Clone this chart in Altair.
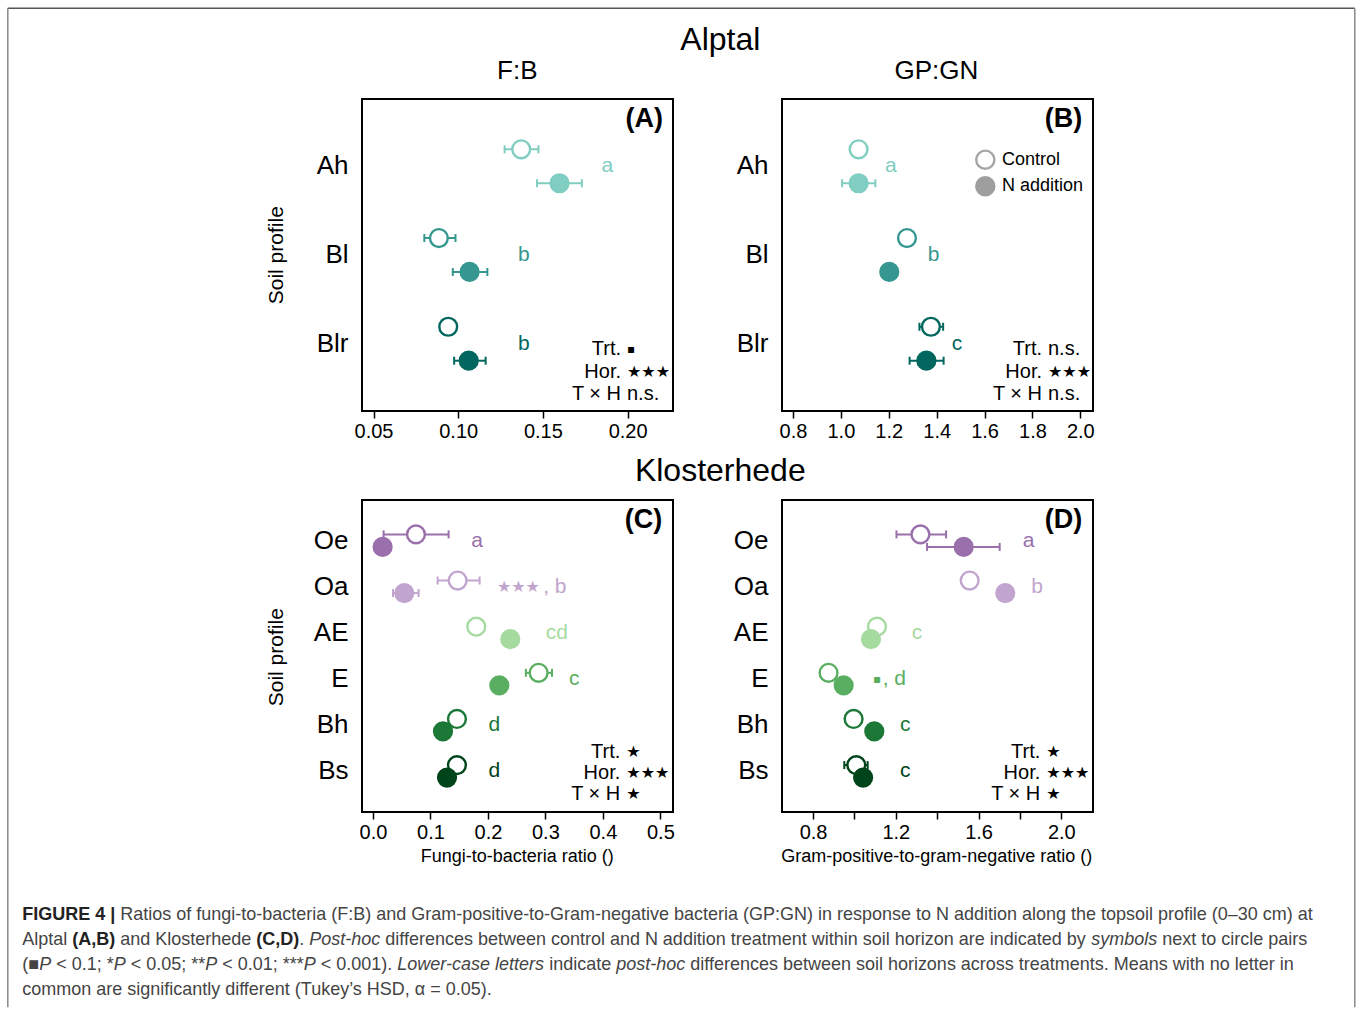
import altair as alt
import pandas as pd

FONT = "Liberation Sans, Arial, Helvetica, DejaVu Sans, sans-serif"
SYMFONT = "DejaVu Sans, Liberation Sans, sans-serif"
TREAT = ["Control", "N addition"]

# ---------------- data ----------------
alptal_horizons = ["Ah", "Bl", "Blr"]
alptal_colors = ["#80cdc1", "#35978f", "#01665e"]

fb_a_ctrl = [0.1372, 0.0886, 0.0941]
fb_a_ctrl_lo = [0.1274, 0.0800, 0.0941]
fb_a_ctrl_hi = [0.1474, 0.0984, 0.0941]
fb_a_n = [0.1598, 0.1067, 0.1062]
fb_a_n_lo = [0.1465, 0.0968, 0.0976]
fb_a_n_hi = [0.1730, 0.1172, 0.1162]
fb_a_letters = ["a", "b", "b"]
fb_a_letter_at = [0.188, 0.1388, 0.1388]
fb_a_marks = ["", "", ""]
fb_a_mark_at = [0, 0, 0]
fb_a_stats = ["▪", "★★★", "n.s."]

gp_a_ctrl = [1.074, 1.276, 1.376]
gp_a_ctrl_lo = [1.074, 1.276, 1.328]
gp_a_ctrl_hi = [1.074, 1.276, 1.427]
gp_a_n = [1.074, 1.202, 1.357]
gp_a_n_lo = [1.005, 1.202, 1.287]
gp_a_n_hi = [1.144, 1.202, 1.429]
gp_a_letters = ["a", "b", "c"]
gp_a_letter_at = [1.209, 1.387, 1.485]
gp_a_marks = ["", "", ""]
gp_a_mark_at = [0, 0, 0]
gp_a_stats = ["n.s.", "★★★", "n.s."]

klost_horizons = ["Oe", "Oa", "AE", "E", "Bh", "Bs"]
klost_colors = ["#9970ab", "#c2a5cf", "#a6dba0", "#5aae61", "#1b7837", "#00441b"]

fb_k_ctrl = [0.0748, 0.1473, 0.1797, 0.2882, 0.1461, 0.1461]
fb_k_ctrl_lo = [0.0185, 0.1125, 0.1797, 0.2660, 0.1461, 0.1461]
fb_k_ctrl_hi = [0.1316, 0.1855, 0.1797, 0.3115, 0.1461, 0.1461]
fb_k_n = [0.0168, 0.0545, 0.2389, 0.2198, 0.1218, 0.1288]
fb_k_n_lo = [0.0168, 0.0348, 0.2389, 0.2198, 0.1218, 0.1288]
fb_k_n_hi = [0.0168, 0.0794, 0.2389, 0.2198, 0.1218, 0.1288]
fb_k_letters = ["a", ", b", "cd", "c", "d", "d"]
fb_k_letter_at = [0.181, 0.3164, 0.320, 0.350, 0.211, 0.211]
fb_k_marks = ["", "★★★", "", "", "", ""]
fb_k_mark_at = [0, 0.253, 0, 0, 0, 0]
fb_k_stats = ["★", "★★★", "★"]

gp_k_ctrl = [1.319, 1.557, 1.109, 0.875, 0.996, 1.009]
gp_k_ctrl_lo = [1.203, 1.557, 1.109, 0.875, 0.996, 0.951]
gp_k_ctrl_hi = [1.443, 1.557, 1.109, 0.875, 0.996, 1.064]
gp_k_n = [1.528, 1.729, 1.080, 0.948, 1.096, 1.042]
gp_k_n_lo = [1.351, 1.729, 1.080, 0.948, 1.096, 1.042]
gp_k_n_hi = [1.702, 1.729, 1.080, 0.948, 1.096, 1.042]
gp_k_letters = ["a", "b", "c", ", d", "c", "c"]
gp_k_letter_at = [1.842, 1.883, 1.303, 1.193, 1.246, 1.246]
gp_k_marks = ["", "", "", "▪", "", ""]
gp_k_mark_at = [0, 0, 0, 1.109, 0, 0]
gp_k_stats = ["★", "★★★", "★"]

stat_names = ["Trt.", "Hor.", "T × H"]

fb_a_ticks = [0.05, 0.10, 0.15, 0.20]
gp_ticks = [0.8, 1.0, 1.2, 1.4, 1.6, 1.8, 2.0]
fb_k_ticks = [0.0, 0.1, 0.2, 0.3, 0.4, 0.5]
gp_k_shown = ["0.8", "1.2", "1.6", "2.0"]

caption_lines = [
    [("FIGURE 4 |", "b"), (" Ratios of fungi-to-bacteria (F:B) and Gram-positive-to-Gram-negative bacteria (GP:GN) in response to N addition along the topsoil profile (0–30 cm) at", "n")],
    [("Alptal ", "n"), ("(A,B)", "b"), (" and Klosterhede ", "n"), ("(C,D)", "b"), (". ", "n"), ("Post-hoc", "i"),
     (" differences between control and N addition treatment within soil horizon are indicated by ", "n"),
     ("symbols", "i"), (" next to circle pairs", "n")],
    [("(■", "n"), ("P", "i"), (" < 0.1; *", "n"), ("P", "i"), (" < 0.05; **", "n"), ("P", "i"), (" < 0.01; ***", "n"),
     ("P", "i"), (" < 0.001). ", "n"), ("Lower-case letters", "i"), (" indicate ", "n"), ("post-hoc", "i"),
     (" differences between soil horizons across treatments. Means with no letter in", "n")],
    [("common are significantly different (Tukey’s HSD, α = 0.05).", "n")],
]

# ---------------- layout helpers ----------------
W, H = 311, 312
AX, AY = 361.7, 99.3          # page position of panel A plot origin


def ptext(text, x, y, size, align="center", baseline="middle", weight="normal",
          style="normal", color="black", angle=None, font=FONT):
    kw = dict(text=text, fontSize=size, align=align, baseline=baseline,
              fontWeight=weight, fontStyle=style, color=color, font=font)
    if angle is not None:
        kw["angle"] = angle
    return alt.Chart(alt.Data(values=[{"k": 0}])).mark_text(**kw).encode(
        x=alt.value(x), y=alt.value(y))


def sym_size(s, base):
    if "★" in s:
        return 16
    if "▪" in s:
        return 12
    return base


def make_df(h, cm, clo, chi, nm, nlo, nhi):
    rows = []
    for i, hz in enumerate(h):
        rows.append(dict(horizon=hz, treatment="Control", mean=cm[i], lo=clo[i], hi=chi[i]))
        rows.append(dict(horizon=hz, treatment="N addition", mean=nm[i], lo=nlo[i], hi=nhi[i]))
    return pd.DataFrame(rows)


def panel(h, colors, df, letters, letter_at, marks, mark_at, xdom, xticks, fmt, pad_outer, off_pad,
          label_expr=None, letter_size=21):
    col = alt.Scale(domain=h, range=colors)
    axkw = dict(values=xticks, format=fmt, title=None, labelFlush=False, labelOverlap=False)
    if label_expr:
        axkw["labelExpr"] = label_expr
    xs = alt.Scale(domain=xdom, nice=False, zero=False)

    def X(f):
        return alt.X(f, type="quantitative", scale=xs, axis=alt.Axis(**axkw), title=None)

    Y = alt.Y("horizon:N", scale=alt.Scale(domain=h, paddingInner=0, paddingOuter=pad_outer),
              axis=alt.Axis(title=None, ticks=False, domain=False, labelFontSize=26,
                            labelPadding=14, labelFont=FONT, labelColor="black"))
    YO = alt.YOffset("treatment:N", scale=alt.Scale(domain=TREAT, paddingInner=0, paddingOuter=off_pad))
    C = alt.Color("horizon:N", scale=col, legend=None)

    base = alt.Chart(df)
    bars = base.mark_rule(strokeWidth=2).encode(x=X("lo"), x2="hi:Q", y=Y, yOffset=YO, color=C)
    caps = base.transform_fold(["lo", "hi"], as_=["end", "xv"]).mark_point(
        shape="M0,-1L0,1", size=64, strokeWidth=2, filled=False, opacity=1).encode(
        x=X("xv"), y=Y, yOffset=YO, color=C)
    ctrl = base.transform_filter(alt.datum.treatment == "Control").mark_point(
        shape="circle", size=317, strokeWidth=2.4, fill="white", fillOpacity=1, opacity=1).encode(
        x=X("mean"), y=Y, yOffset=YO, stroke=alt.Stroke("horizon:N", scale=col, legend=None))
    nadd = base.transform_filter(alt.datum.treatment == "N addition").mark_circle(
        size=408, opacity=1).encode(x=X("mean"), y=Y, yOffset=YO, color=C)
    ldf = pd.DataFrame({"horizon": h, "letter": letters, "lx": letter_at})
    lets = alt.Chart(ldf).mark_text(fontSize=letter_size, font=FONT, align="center",
                                    baseline="middle").encode(
        x=X("lx"), y=Y, text="letter:N", color=C)
    out = [bars, caps, ctrl, nadd, lets]
    for hz, m, mx in zip(h, marks, mark_at):
        if m:
            mdf = pd.DataFrame({"horizon": [hz], "mark": [m], "mx": [mx]})
            out.append(alt.Chart(mdf).mark_text(fontSize=sym_size(m, letter_size), font=SYMFONT,
                                                align="center", baseline="middle").encode(
                x=X("mx"), y=Y, text="mark:N", color=C))
    return out


def stats_layers(symbols, xr, ys, size):
    out = []
    for name, sym, y in zip(stat_names, symbols, ys):
        out.append(ptext(name, xr, y, size, align="right"))
        out.append(ptext(sym, xr + 6, y, sym_size(sym, size), align="left",
                         font=SYMFONT if ("★" in sym or "▪" in sym) else FONT))
    return out


# ---------------- panels ----------------
df_a = make_df(alptal_horizons, fb_a_ctrl, fb_a_ctrl_lo, fb_a_ctrl_hi, fb_a_n, fb_a_n_lo, fb_a_n_hi)
df_b = make_df(alptal_horizons, gp_a_ctrl, gp_a_ctrl_lo, gp_a_ctrl_hi, gp_a_n, gp_a_n_lo, gp_a_n_hi)
df_c = make_df(klost_horizons, fb_k_ctrl, fb_k_ctrl_lo, fb_k_ctrl_hi, fb_k_n, fb_k_n_lo, fb_k_n_hi)
df_d = make_df(klost_horizons, gp_k_ctrl, gp_k_ctrl_lo, gp_k_ctrl_hi, gp_k_n, gp_k_n_lo, gp_k_n_hi)

top_rows = [250.2, 272.7, 295.2]
bot_rows = [251.7, 272.7, 293.7]

layers_a = panel(alptal_horizons, alptal_colors, df_a, fb_a_letters, fb_a_letter_at,
                 fb_a_marks, fb_a_mark_at, [0.0432, 0.2268], fb_a_ticks, ".2f", 0.258, 0.307)
layers_a += stats_layers(fb_a_stats, 259, top_rows, 20)
layers_a += [
    ptext("(A)", 282.3, 19.7, 27, weight="bold"),
    ptext("F:B", 155.3, -28.3, 26),
    ptext("Alptal", 358.3, -59.3, 32),
    ptext("Soil profile", -84.7, 156.2, 21, angle=270),
]

# outer frame of the figure (relative to panel A origin)
L, R, T, B = 7.5 - AX, 1354.5 - AX, 8.5 - AY, 1007.5 - AY
one = alt.Data(values=[{"k": 0}])
layers_a += [
    alt.Chart(one).mark_rule(stroke="#555555", strokeWidth=1.5).encode(
        x=alt.value(L), x2=alt.value(R), y=alt.value(T)),
    alt.Chart(one).mark_rule(stroke="#888888", strokeWidth=1.5).encode(
        x=alt.value(L), y=alt.value(T), y2=alt.value(B)),
    alt.Chart(one).mark_rule(stroke="#888888", strokeWidth=1.5).encode(
        x=alt.value(R), y=alt.value(T), y2=alt.value(B)),
]

# caption (positions computed from Helvetica/Arial advance widths)
REG = {' ': 278, '!': 278, '(': 333, ')': 333, '*': 389, '+': 584, ',': 278, '-': 333, '.': 278,
       '/': 278, ':': 278, ';': 278, '<': 584, '=': 584, '>': 584, '|': 260, "'": 191, '’': 222,
       '–': 556, 'α': 578, '■': 604,
       'A': 667, 'B': 667, 'C': 722, 'D': 722, 'E': 667, 'F': 611, 'G': 778, 'H': 722, 'I': 278,
       'J': 500, 'K': 667, 'L': 556, 'M': 833, 'N': 722, 'O': 778, 'P': 667, 'Q': 778, 'R': 722,
       'S': 667, 'T': 611, 'U': 722, 'V': 667, 'W': 944, 'X': 667, 'Y': 667, 'Z': 611,
       'a': 556, 'b': 556, 'c': 500, 'd': 556, 'e': 556, 'f': 278, 'g': 556, 'h': 556, 'i': 222,
       'j': 222, 'k': 500, 'l': 222, 'm': 833, 'n': 556, 'o': 556, 'p': 556, 'q': 556, 'r': 333,
       's': 500, 't': 278, 'u': 556, 'v': 500, 'w': 722, 'x': 500, 'y': 500, 'z': 500}
BOLD = {' ': 278, '(': 333, ')': 333, ',': 278, '|': 280, 'A': 722, 'B': 722, 'C': 722, 'D': 722,
        'E': 667, 'F': 611, 'G': 778, 'I': 278, 'R': 722, 'U': 722}


def em(s, kind):
    tab = BOLD if kind == "b" else REG
    return sum(tab.get(c, REG.get(c, 556)) for c in s)


line1_em = sum(em(s, k) for s, k in caption_lines[0])
cap_fs = (1313 - 22) / (line1_em / 1000.0)
cap_y = [915, 940, 965, 990]
for line, yy in zip(caption_lines, cap_y):
    xx = 22.0
    for s, k in line:
        lead = len(s) - len(s.lstrip(" "))
        start = xx + em(" " * lead, k) * cap_fs / 1000.0
        txt = s.strip(" ")
        if txt:
            layers_a.append(ptext(
                txt, start - AX, yy - AY, cap_fs, align="left",
                weight="bold" if k == "b" else "normal",
                style="italic" if k == "i" else "normal",
                color="#222222" if k == "b" else "#444444"))
        xx += em(s, k) * cap_fs / 1000.0

chart_a = alt.layer(*layers_a).properties(width=W, height=H)

layers_b = panel(alptal_horizons, alptal_colors, df_b, gp_a_letters, gp_a_letter_at,
                 gp_a_marks, gp_a_mark_at, [0.754, 2.053], gp_ticks, ".1f", 0.258, 0.307)
layers_b += stats_layers(gp_a_stats, 260, top_rows, 20)
layers_b += [
    ptext("(B)", 281.6, 19.7, 27, weight="bold"),
    ptext("GP:GN", 154.3, -28.3, 26),
    alt.Chart(one).mark_point(shape="circle", size=330, fill="white", fillOpacity=1,
                              stroke="#a6a6a6", strokeWidth=2.4, opacity=1).encode(
        x=alt.value(203.3), y=alt.value(60.7)),
    alt.Chart(one).mark_circle(size=420, color="#9e9e9e", opacity=1).encode(
        x=alt.value(203.3), y=alt.value(87.3)),
    ptext("Control", 220, 60.7, 18, align="left"),
    ptext("N addition", 220, 87.3, 18, align="left"),
]
chart_b = alt.layer(*layers_b).properties(width=W, height=H)

layers_c = panel(klost_horizons, klost_colors, df_c, fb_k_letters, fb_k_letter_at,
                 fb_k_marks, fb_k_mark_at, [-0.0191, 0.522], fb_k_ticks, ".1f", 0.381, 0.844)
layers_c += stats_layers(fb_k_stats, 258.3, bot_rows, 20)
layers_c += [
    ptext("(C)", 281.6, 19.7, 27, weight="bold"),
    ptext("Klosterhede", 358.3, -29.3, 32),
    ptext("Soil profile", -84.7, 157.2, 21, angle=270),
    ptext("Fungi-to-bacteria ratio ()", 155.3, 356.7, 18),
]
chart_c = alt.layer(*layers_c).properties(width=W, height=H)

shown = "[" + ",".join("'%s'" % s for s in gp_k_shown) + "]"
layers_d = panel(klost_horizons, klost_colors, df_d, gp_k_letters, gp_k_letter_at,
                 gp_k_marks, gp_k_mark_at, [0.650, 2.153], gp_ticks, ".1f", 0.381, 0.844,
                 label_expr="indexof(%s, datum.label) >= 0 ? datum.label : ''" % shown)
layers_d += stats_layers(gp_k_stats, 258.3, bot_rows, 20)
layers_d += [
    ptext("(D)", 281.6, 19.7, 27, weight="bold"),
    ptext("Gram-positive-to-gram-negative ratio ()", 154.8, 356.7, 18),
]
chart_d = alt.layer(*layers_d).properties(width=W, height=H)

chart = alt.concat(
    chart_a, chart_b, chart_c, chart_d, columns=2,
    spacing={"row": 89, "column": 109}, bounds="flush"
).resolve_scale(
    x="independent", y="independent", yOffset="independent",
    color="independent", stroke="independent"
).properties(
    padding={"left": 6, "top": 6, "right": 0, "bottom": 0}
).configure_view(
    stroke="black", strokeWidth=2
).configure_axis(
    grid=False, domain=False, tickColor="black", tickWidth=1.5, tickSize=7,
    labelFontSize=20, labelColor="black", labelFont=FONT, labelPadding=3
)

chart.save("out.html", embed_options={"renderer": "svg", "actions": False})
